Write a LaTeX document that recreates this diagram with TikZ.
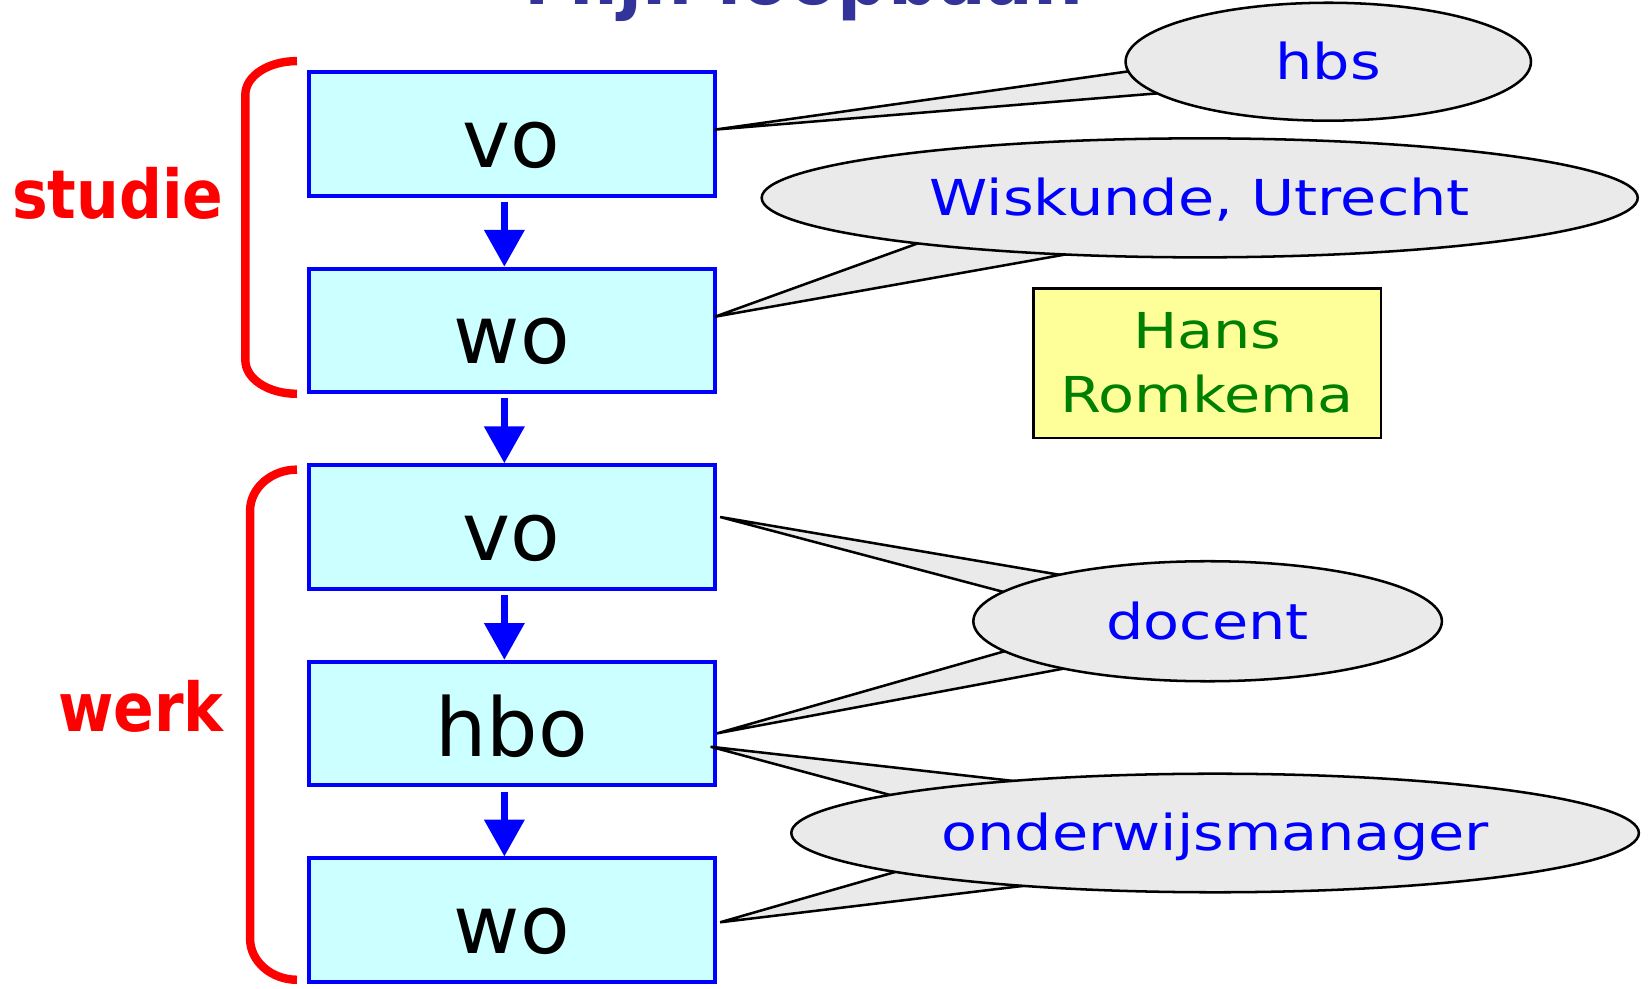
\documentclass[tikz,border=0pt]{standalone}
\usepackage{fontspec}
\setmainfont{DejaVu Sans}
\newfontfamily\ballonfont[FakeStretch=1.19]{DejaVu Sans}
\newfontfamily\labelfont[FakeStretch=0.89]{DejaVu Sans}
\usetikzlibrary{positioning,calc,shapes.geometric,arrows.meta}
\definecolor{blauw}{HTML}{0000FF}
\definecolor{lichtcyaan}{HTML}{CCFFFF}
\definecolor{ballongrijs}{HTML}{EAEAEA}
\definecolor{geel}{HTML}{FFFF99}
\definecolor{groen}{HTML}{008000}
\definecolor{rood}{HTML}{FF0000}
\definecolor{titelblauw}{HTML}{333399}
\pgfdeclarelayer{front}
\pgfsetlayers{main,front}

\begin{document}
\begin{tikzpicture}[x=0.5pt, y=-0.5pt, node distance=32.85pt,
    fase/.style={draw=blauw, fill=lichtcyaan, line width=1.9pt, minimum width=193pt,
        minimum height=58.6pt, inner sep=0pt, text height=31.5pt, text depth=0pt,
        font=\fontsize{38.5pt}{46pt}\selectfont},
    pijl/.style={draw=blauw, line width=3.4pt, -{Triangle[width=18.5pt,length=17.5pt]}},
    haak/.style={draw=rood, line width=4pt},
    groep/.style={text=rood, anchor=base, font=\labelfont\bfseries\fontsize{32pt}{38pt}\selectfont},
    ballon/.style={ellipse, draw=black, fill=ballongrijs, line width=1.2pt, inner sep=0pt,
        text=blauw, text height=17pt, text depth=0pt, font=\ballonfont\fontsize{23.5pt}{28pt}\selectfont},
    staart/.style={draw=black, fill=ballongrijs, line width=1.2pt}]

    \useasboundingbox (0,0) rectangle (1568,939);
    \clip (0,0) rectangle (1568,939);

    \node[anchor=base, text=titelblauw, font=\labelfont\bfseries\fontsize{37.5pt}{44pt}\selectfont]
        (titel) at (763.5,3.8) {Mijn loopbaan};

    \node[fase] (vo1) at (486,127.1) {vo};
    \node[fase, below=of vo1] (wo1) {wo};
    \node[fase, below=of wo1] (vo2) {vo};
    \node[fase, below=of vo2] (hbo) {hbo};
    \node[fase, below=of hbo] (wo2) {wo};

    \foreach \a/\b in {vo1/wo1, wo1/vo2, vo2/hbo, hbo/wo2}
        \draw[pijl] ($(\a.south)+(-7,4)$) -- ($(\b.north)+(-7,0)$);

    \draw[haak] (282,58) .. controls (255,58) and (233,72) .. (233,90) -- (233,342)
        .. controls (233,360) and (255,374) .. (282,374);
    \draw[haak] (282,446) .. controls (257.7,446) and (237.5,463.5) .. (237.5,485) -- (237.5,891.5)
        .. controls (237.5,913) and (257.7,930.5) .. (282,930.5);
    \node[groep] (studie) at (112,207.4) {studie};
    \node[groep] (werk) at (134,694.7) {werk};

    \node[draw=black, fill=geel, line width=1pt, minimum width=165pt, minimum height=71pt,
        text=groen, align=center, font=\ballonfont\fontsize{23.5pt}{30.4pt}\selectfont]
        (naam) at (1146.5,345) {Hans\\Romkema};

    \begin{pgfonlayer}{front}
    \node[ballon, minimum width=192.5pt, minimum height=56pt] (hbs) at (1261.5,58.6) {hbs};
    \node[ballon, minimum width=416pt, minimum height=56.5pt] (wiskunde) at (1139.4,187.9) {Wiskunde, Utrecht};
    \node[ballon, minimum width=222.5pt, minimum height=57pt] (docent) at (1146.9,590) {docent};
    \node[ballon, minimum width=402.5pt, minimum height=56.3pt] (manager) at (1154,791.1) {onderwijsmanager};
    \end{pgfonlayer}

    \draw[staart] ($(vo1.east)+(-2,-4)$) -- ($(hbs)+(-152.5,3.9)$) -- ($(hbs)+(-123.8,26.9)$) -- cycle;
    \draw[staart] ($(wo1.east)+(-2,-13)$) -- ($(wiskunde)+(-209.6,22.2)$) -- ($(wiskunde)+(-79.8,45.3)$) -- cycle;
    \draw[staart] ($(vo2.east)+(3,-9.5)$) -- ($(docent)+(-87,-35)$) -- ($(docent)+(-115,-7)$) -- cycle;
    \draw[staart] ($(hbo.east)+(0,9.3)$) -- ($(docent)+(-114,6)$) -- ($(docent)+(-94,37)$) -- cycle;
    \draw[staart] ($(hbo.east)+(-6,22)$) -- ($(manager)+(-141,-43.7)$) -- ($(manager)+(-248.4,-19.9)$) -- cycle;
    \draw[staart] ($(wo2.east)+(3,2)$) -- ($(manager)+(-243.6,19.7)$) -- ($(manager)+(-131,44.1)$) -- cycle;

\end{tikzpicture}
\end{document}
